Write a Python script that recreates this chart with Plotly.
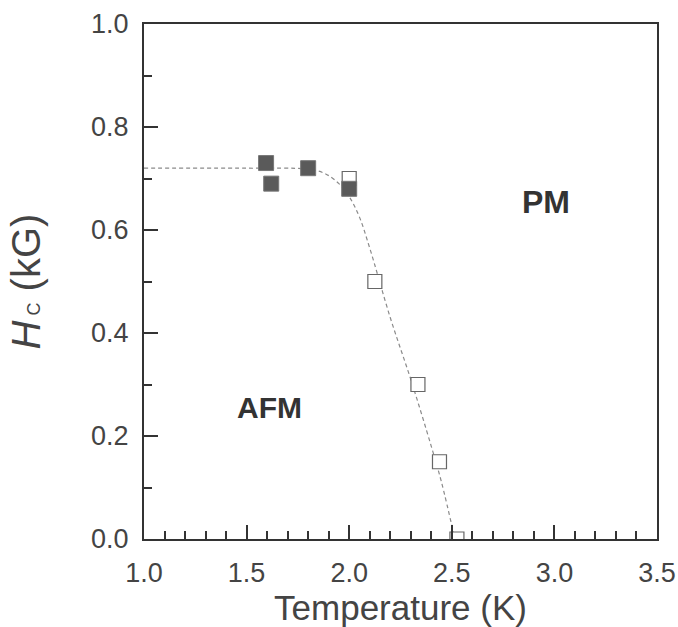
import plotly.graph_objects as go

# data
afm_T = [1.595, 1.62, 1.80, 2.00]
afm_H = [0.73, 0.69, 0.72, 0.68]
pm_T = [2.00, 2.125, 2.335, 2.44, 2.525]
pm_H = [0.70, 0.50, 0.30, 0.15, 0.00]
fit_T = [1.0, 1.5, 1.8, 1.88, 1.95, 2.0, 2.05, 2.1, 2.2, 2.3, 2.4, 2.45, 2.515]
fit_H = [0.72, 0.72, 0.718, 0.71, 0.69, 0.665, 0.625, 0.565, 0.43, 0.31, 0.18, 0.11, 0.0]

FONT = "Liberation Sans, Arial"

fig = go.Figure()
fig.add_trace(go.Scatter(x=fit_T, y=fit_H, mode="lines",
                         line=dict(color="#8a8a8a", width=1.2, dash="4px,3px", shape="spline"),
                         showlegend=False, hoverinfo="skip"))
fig.add_trace(go.Scatter(x=pm_T, y=pm_H, mode="markers",
                         marker=dict(symbol="square", size=14, color="white",
                                     line=dict(color="#666", width=1.2)),
                         showlegend=False))
fig.add_trace(go.Scatter(x=afm_T, y=afm_H, mode="markers",
                         marker=dict(symbol="square", size=15, color="#5a5a5a",
                                     line=dict(color="#777", width=1)),
                         showlegend=False))

fig.add_annotation(x=2.957, y=0.654, text="<b>PM</b>", showarrow=False,
                   font=dict(family=FONT, size=32, color="#333"))
fig.add_annotation(x=1.611, y=0.256, text="<b>AFM</b>", showarrow=False,
                   font=dict(family=FONT, size=30, color="#333"))

axis_common = dict(showgrid=False, zeroline=False, showline=True, linecolor="#333",
                   linewidth=2, mirror=True, ticks="inside", tickcolor="#333",
                   tickwidth=2, ticklen=14, ticklabeloverflow="allow", automargin=False,
                   tickfont=dict(family=FONT, size=27, color="#444"))

fig.update_xaxes(range=[1.0, 3.5], tickvals=[1.0, 1.5, 2.0, 2.5, 3.0, 3.5],
                 ticktext=["1.0", "1.5", "2.0", "2.5", "3.0", "3.5"],
                 ticklabelstandoff=9,
                 minor=dict(dtick=0.1, ticks="inside", ticklen=8, tickwidth=2, tickcolor="#333"),
                 title=dict(text="Temperature (K)", standoff=8,
                            font=dict(family=FONT, size=35, color="#444")),
                 **axis_common)
fig.update_yaxes(range=[0, 1.0], tickvals=[0, 0.2, 0.4, 0.6, 0.8, 1.0],
                 ticktext=["0.0", "0.2", "0.4", "0.6", "0.8", "1.0"],
                 ticklabelstandoff=8,
                 minor=dict(dtick=0.1, ticks="inside", ticklen=8, tickwidth=2, tickcolor="#333"),
                 title=dict(text="<i>H</i><span style='font-size:18px'>&nbsp;C</span>&nbsp;(kG)", standoff=38,
                            font=dict(family=FONT, size=40, color="#444")),
                 **axis_common)

fig.update_layout(width=678, height=627, margin=dict(l=144, r=21, t=24, b=88),
                  plot_bgcolor="white", paper_bgcolor="white")
fig.write_html("out.html")
